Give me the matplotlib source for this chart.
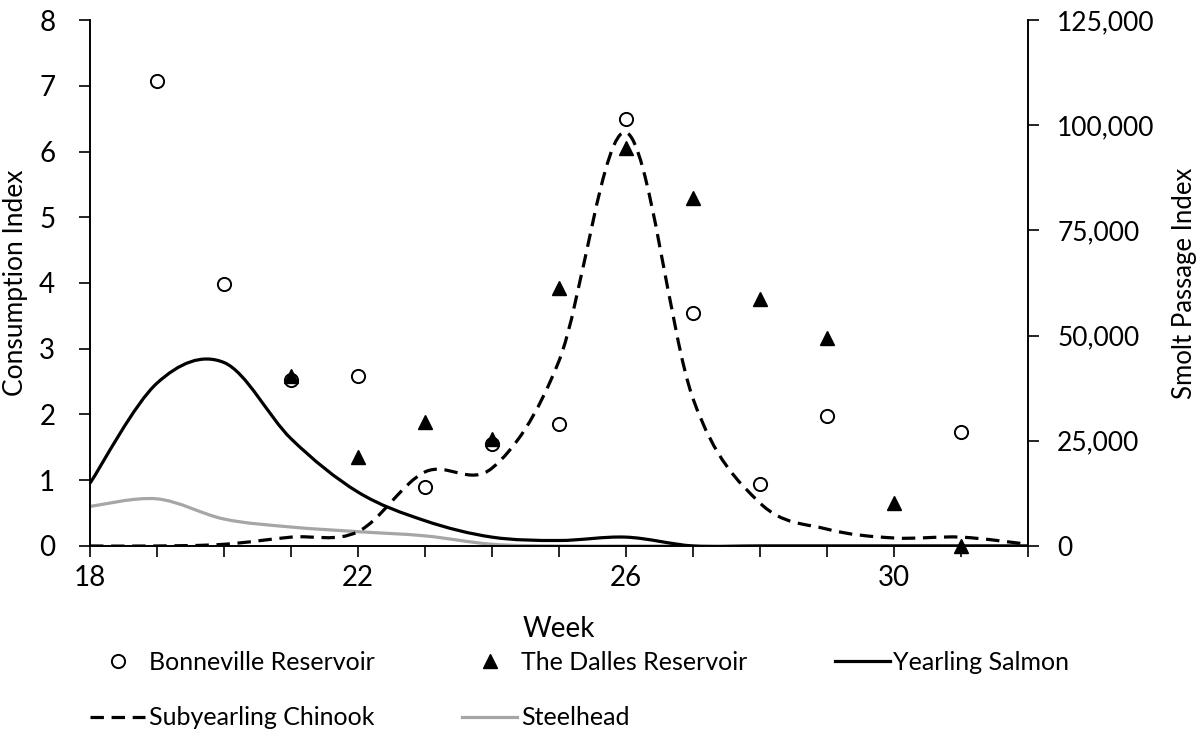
import matplotlib
matplotlib.use("Agg")
import matplotlib.pyplot as plt
from matplotlib.path import Path
from matplotlib.patches import PathPatch
from matplotlib.lines import Line2D
from matplotlib.ticker import FuncFormatter

plt.rcParams['font.family'] = ['Lato', 'DejaVu Sans']

# ---------------- data ----------------
weeks = list(range(18, 33))

bon_weeks = [19, 20, 21, 22, 23, 24, 25, 26, 27, 28, 29, 31]
bon_vals = [7.07, 3.99, 2.52, 2.59, 0.89, 1.55, 1.85, 6.49, 3.54, 0.95, 1.98, 1.73]

dal_weeks = [21, 22, 23, 24, 25, 26, 27, 28, 29, 30, 31]
dal_vals = [2.58, 1.35, 1.88, 1.62, 3.93, 6.05, 5.30, 3.76, 3.17, 0.66, 0.0]

yearling = [14900, 38700, 43600, 25500, 12800, 6000, 2100, 1300, 2100, 0, 0, 0, 0, 0, 0]
subyearling = [0, 0, 400, 2100, 3400, 17600, 18500, 44000, 98300, 35000, 10200, 4000, 1900, 2100, 400]
steelhead = [9400, 11200, 6400, 4500, 3400, 2400, 400, 0, 0, 0, 0, 0, 0, 0, 0]

left_ticks = [0, 1, 2, 3, 4, 5, 6, 7, 8]
right_ticks = [0, 25000, 50000, 75000, 100000, 125000]
x_major = [18, 22, 26, 30]


def smooth_path(xs, ys):
    """Excel-style smoothed line as cubic Bezier path."""
    n = len(xs)
    pts = list(zip(xs, ys))
    verts = [pts[0]]
    codes = [Path.MOVETO]
    for i in range(n - 1):
        p0 = pts[max(i - 1, 0)]
        p1 = pts[i]
        p2 = pts[i + 1]
        p3 = pts[min(i + 2, n - 1)]
        c1 = (p1[0] + (p2[0] - p0[0]) / 6.0, p1[1] + (p2[1] - p0[1]) / 6.0)
        c2 = (p2[0] - (p3[0] - p1[0]) / 6.0, p2[1] - (p3[1] - p1[1]) / 6.0)
        verts += [c1, c2, p2]
        codes += [Path.CURVE4] * 3
    return Path(verts, codes)


fig = plt.figure(figsize=(12, 7.36), dpi=100)
ax = fig.add_axes([0.075, 0.2582, 0.7817, 0.7146])
ax2 = ax.twinx()
ax.set_zorder(ax2.get_zorder() + 1)
ax.patch.set_visible(False)

lw = 2.3
gray = '#a6a6a6'
dash = (0, (4.2, 2.4))

ax2.add_patch(PathPatch(smooth_path(weeks, steelhead), fill=False, edgecolor=gray, lw=lw, capstyle='butt'))
ax2.add_patch(PathPatch(smooth_path(weeks, yearling), fill=False, edgecolor='black', lw=lw, capstyle='butt'))
ax2.add_patch(PathPatch(smooth_path(weeks, subyearling), fill=False, edgecolor='black', lw=lw,
                        linestyle=dash, capstyle='butt'))

ax.plot(bon_weeks, bon_vals, linestyle='none', marker='o', markersize=9.5,
        markerfacecolor='white', markeredgecolor='black', markeredgewidth=1.4, clip_on=False)
ax.plot(dal_weeks, dal_vals, linestyle='none', marker='^', markersize=9.5,
        markerfacecolor='black', markeredgecolor='black', clip_on=False)

ax.set_xlim(18, 32)
ax.set_ylim(0, 8)
ax2.set_ylim(0, 125000)

ax.set_xticks(x_major)
ax.set_xticks(weeks, minor=True)
ax.set_yticks(left_ticks)
ax2.set_yticks(right_ticks)
ax2.yaxis.set_major_formatter(FuncFormatter(lambda v, p: f"{int(v):,}"))

for a in (ax, ax2):
    a.spines['top'].set_visible(False)
    for s in a.spines.values():
        s.set_linewidth(1.2)

ax.tick_params(axis='x', which='both', direction='out', length=8, width=1.2, labelsize=20, pad=6)
ax.tick_params(axis='y', direction='out', length=8, width=1.2, labelsize=20, pad=17)
ax2.tick_params(axis='y', direction='out', length=8, width=1.2, labelsize=19, pad=13)

ax.set_xlabel('Week', fontsize=20, labelpad=18)
ax.set_ylabel('Consumption Index', fontsize=19)
ax2.set_ylabel('Smolt Passage Index', fontsize=18.5)
ax.yaxis.set_label_coords(-0.066, 0.5)
ax2.yaxis.set_label_coords(1.153, 0.5)

h_bon = Line2D([], [], linestyle='none', marker='o', markersize=9.5, markerfacecolor='white',
               markeredgecolor='black', markeredgewidth=1.4)
h_dal = Line2D([], [], linestyle='none', marker='^', markersize=9.5, color='black')
h_year = Line2D([], [], color='black', lw=lw)
h_sub = Line2D([], [], color='black', lw=lw, linestyle=dash)
h_steel = Line2D([], [], color=gray, lw=lw)

handles = [h_bon, h_sub, h_dal, h_steel, h_year]
labels = ['Bonneville Reservoir', 'Subyearling Chinook', 'The Dalles Reservoir', 'Steelhead', 'Yearling Salmon']
fig.legend(handles, labels, loc='upper left', bbox_to_anchor=(0.075, 0.1155), ncol=3, frameon=False,
           fontsize=18, handlelength=2.2, handletextpad=0.15, columnspacing=3.5, labelspacing=1.3,
           borderpad=0, borderaxespad=0)

fig.savefig('out.png', dpi=100)
